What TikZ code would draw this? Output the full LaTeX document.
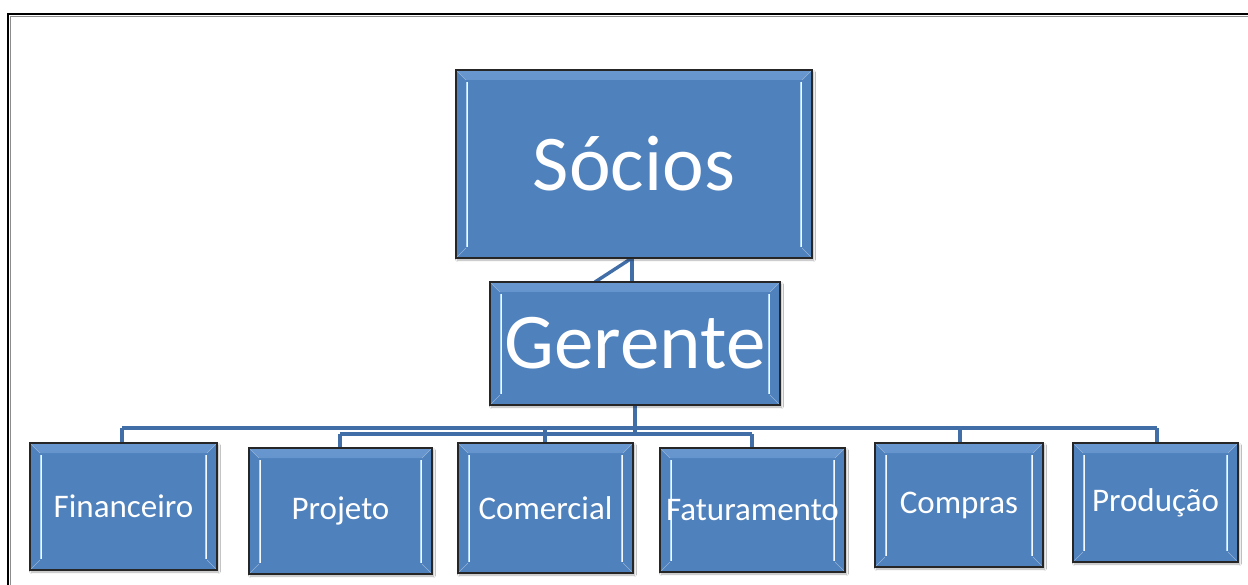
\documentclass[tikz,border=0pt]{standalone}
\usepackage{fontspec}
\setmainfont{Carlito}
\usetikzlibrary{shadows.blur}
\definecolor{boxblue}{RGB}{79,129,189}
\definecolor{boxtop}{RGB}{104,150,206}
\definecolor{bevlight}{RGB}{180,212,244}
\definecolor{connblue}{RGB}{66,110,168}
\tikzset{
  orgbox/.style={draw=black!85, line width=1.2pt, fill=boxblue, inner sep=0pt,
    text=white, align=center,
    blur shadow={shadow blur steps=5, shadow xshift=1.5pt, shadow yshift=-2pt, shadow opacity=30},
    path picture={
      \fill[top color=boxtop, bottom color=boxblue]
        (path picture bounding box.north west) -- (path picture bounding box.north east)
        -- ([shift={(-10pt,-10pt)}]path picture bounding box.north east)
        -- ([shift={(10pt,-10pt)}]path picture bounding box.north west) -- cycle;
      \draw[boxblue!60!white, line width=0.6pt]
        (path picture bounding box.north west) -- ([shift={(10pt,-10pt)}]path picture bounding box.north west)
        (path picture bounding box.north east) -- ([shift={(-10pt,-10pt)}]path picture bounding box.north east)
        (path picture bounding box.south west) -- ([shift={(10pt,10pt)}]path picture bounding box.south west)
        (path picture bounding box.south east) -- ([shift={(-10pt,10pt)}]path picture bounding box.south east);
      \draw[bevlight, line width=2.6pt]
        ([shift={(11pt,-12pt)}]path picture bounding box.north west) -- ([shift={(11pt,11pt)}]path picture bounding box.south west)
        ([shift={(-11pt,-12pt)}]path picture bounding box.north east) -- ([shift={(-11pt,11pt)}]path picture bounding box.south east);
      \draw[white!85!bevlight, line width=0.8pt]
        ([shift={(11pt,-12pt)}]path picture bounding box.north west) -- ([shift={(11pt,11pt)}]path picture bounding box.south west)
        ([shift={(-11pt,-12pt)}]path picture bounding box.north east) -- ([shift={(-11pt,11pt)}]path picture bounding box.south east);
    }},
  bigtext/.style={font=\fontsize{79}{90}\selectfont},
  smalltext/.style={font=\fontsize{33}{38}\selectfont},
  conn/.style={draw=connblue, line width=4.2pt},
}
\begin{document}
\begin{tikzpicture}[x=1pt,y=-1pt]
\useasboundingbox (0,0) rectangle (1248,585);
\fill[white] (0,0) rectangle (1248,585);
% frame (top and left edges)
\draw[black, line width=2pt] (1248,14) -- (8,14) -- (8,585);
\draw[black!45, line width=0.8pt] (1248,16) -- (10,16) -- (10,585);

\coordinate (busL) at (122,428);
\coordinate (busR) at (1157,428);
\coordinate (bus2L) at (340,434);
\coordinate (bus2R) at (752,434);
\coordinate (stem) at (635,434);

% connectors (drawn first, under boxes)
\draw[conn, line width=3.4pt] (632,258) -- (632,282);
\draw[conn, line width=3.4pt] (632,258) -- (595,282);
\draw[conn] (635,405) -- (stem);
\draw[conn] (busL) -- (busR);
\draw[conn] (bus2L) -- (bus2R);

\node[orgbox, minimum width=356pt, minimum height=188pt, bigtext] (socios) at (634,164) {Sócios};
\node[orgbox, minimum width=290pt, minimum height=123pt, bigtext] (gerente) at (635,343.5) {Gerente};

\node[orgbox, minimum width=187pt, minimum height=127pt, smalltext] (fin) at (123.5,506.5) {Financeiro};
\node[orgbox, minimum width=183pt, minimum height=126pt, smalltext] (proj) at (340.5,511) {Projeto};
\node[orgbox, minimum width=175pt, minimum height=130pt, smalltext] (com) at (545.5,508) {Comercial};
\node[orgbox, minimum width=185pt, minimum height=124pt, smalltext] (fat) at (752.5,510) {Faturamento};
\node[orgbox, minimum width=168pt, minimum height=124pt, smalltext] (comp) at (959,505) {Compras};
\node[orgbox, minimum width=165pt, minimum height=119pt, smalltext] (prod) at (1155.5,502.5) {Produção};

% risers
\draw[conn] (busL) -- (fin.north -| busL);
\draw[conn] (bus2L) -- (proj.north -| bus2L);
\draw[conn] (545,428) -- (com.north -| 545,0);
\draw[conn] (bus2R) -- (fat.north -| bus2R);
\draw[conn] (960,428) -- (comp.north -| 960,0);
\draw[conn] (busR) -- (prod.north -| busR);
\end{tikzpicture}
\end{document}
